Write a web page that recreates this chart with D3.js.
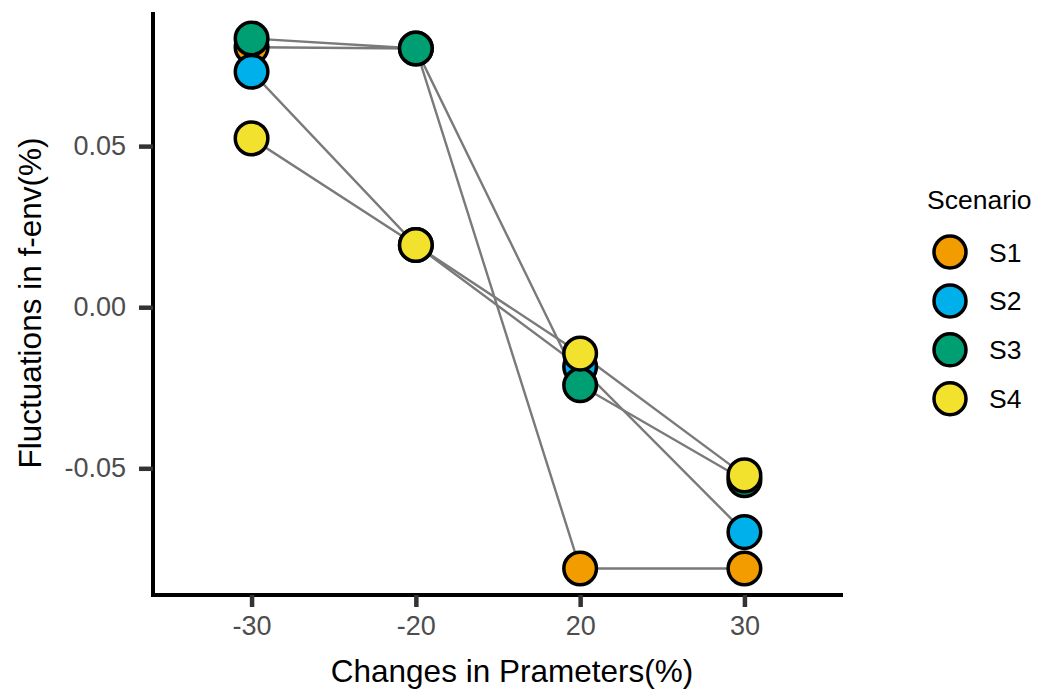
<!DOCTYPE html>
<html>
<head>
<meta charset="utf-8">
<script src="https://d3js.org/d3.v7.min.js"></script>
<style>
  body { margin: 0; background: #fff; }
  text { font-family: "Liberation Sans", Arial, sans-serif; }
</style>
</head>
<body>
<div id="chart"></div>
<script>
// categories on the x axis
var changes = ["-30", "-20", "20", "30"];
var scenarios = ["S1", "S2", "S3", "S4"];
var colors = ["#F39C00", "#00B0EA", "#009E73", "#F2E22E"];

// fluctuation values for each scenario, one per category
var s1 = [0.0807, 0.0803, -0.0811, -0.0811];
var s2 = [0.0731, 0.0193, -0.0185, -0.0698];
var s3 = [0.0834, 0.0803, -0.0242, -0.0537];
var s4 = [0.0524, 0.0193, -0.0144, -0.0522];

var yTicks = [-0.05, 0, 0.05];

var w = 1054, h = 700;
var padL = 153, padR = 843, padT = 12, padB = 595;

var svg = d3.select("#chart").append("svg")
    .attr("width", w)
    .attr("height", h);

var series = [s1, s2, s3, s4].map(function (vals, i) {
    return {
        name: scenarios[i],
        color: colors[i],
        points: vals.map(function (v, j) { return { x: changes[j], y: v }; })
    };
});

var x = d3.scalePoint().domain(changes).range([padL, padR]).padding(0.6);

// ggplot style 5% expansion
var all = d3.merge([s1, s2, s3, s4]);
var ext = d3.extent(all);
var pad = (ext[1] - ext[0]) * 0.05;
var y = d3.scaleLinear().domain([ext[0] - pad, ext[1] + pad]).range([padB, padT]);

// axes
var xAxis = svg.append("g")
    .attr("transform", "translate(0," + padB + ")")
    .call(d3.axisBottom(x).tickSize(12).tickPadding(9));
var yAxis = svg.append("g")
    .attr("transform", "translate(" + padL + ",0)")
    .call(d3.axisLeft(y).tickValues(yTicks).tickSize(14).tickPadding(13)
        .tickFormat(function (d) { return d3.format(".2f")(d).replace("−", "-"); }));

[xAxis, yAxis].forEach(function (a) {
    a.select(".domain").attr("stroke", "#000").attr("stroke-width", 4);
    a.selectAll(".tick line").attr("stroke", "#333").attr("stroke-width", 4.5);
    a.selectAll(".tick text").attr("fill", "#4d4d4d").style("font-size", "27px");
});
// axis lines meet at the corner
xAxis.select(".domain").attr("d", "M" + (padL - 2) + ",0H" + padR);
yAxis.select(".domain").attr("d", "M0," + padT + "V" + (padB + 2));

// axis titles
svg.append("text")
    .attr("x", (padL + padR) / 2 + 14)
    .attr("y", 682)
    .attr("text-anchor", "middle")
    .style("font-size", "31.5px")
    .text("Changes in Prameters(%)");

svg.append("text")
    .attr("transform", "translate(41,303) rotate(-90)")
    .attr("text-anchor", "middle")
    .style("font-size", "31.5px")
    .text("Fluctuations in f-env(%)");

// lines
var line = d3.line()
    .x(function (d) { return x(d.x); })
    .y(function (d) { return y(d.y); });

svg.selectAll(".series-line")
    .data(series)
    .enter()
    .append("path")
    .attr("class", "series-line")
    .attr("d", function (d) { return line(d.points); })
    .attr("fill", "none")
    .attr("stroke", "#7a7a7a")
    .attr("stroke-width", 2.4);

// points
var grp = svg.selectAll(".series-pts")
    .data(series)
    .enter()
    .append("g")
    .attr("class", "series-pts");

grp.selectAll("circle")
    .data(function (d) { return d.points.map(function (p) { return { x: p.x, y: p.y, color: d.color }; }); })
    .enter()
    .append("circle")
    .attr("cx", function (d) { return x(d.x); })
    .attr("cy", function (d) { return y(d.y); })
    .attr("r", 16.3)
    .attr("fill", function (d) { return d.color; })
    .attr("stroke", "#000")
    .attr("stroke-width", 3.5);

// legend
var legend = svg.append("g").attr("transform", "translate(927,0)");
legend.append("text")
    .attr("x", 0)
    .attr("y", 209)
    .style("font-size", "26.5px")
    .text("Scenario");

var item = legend.selectAll(".item")
    .data(series)
    .enter()
    .append("g")
    .attr("class", "item")
    .attr("transform", function (d, i) { return "translate(0," + (252 + i * 48.9) + ")"; });

item.append("circle")
    .attr("cx", 23)
    .attr("cy", 0)
    .attr("r", 16)
    .attr("fill", function (d) { return d.color; })
    .attr("stroke", "#000")
    .attr("stroke-width", 3.5);

item.append("text")
    .attr("x", 62)
    .attr("y", 9.5)
    .style("font-size", "26.5px")
    .text(function (d) { return d.name; });
</script>
</body>
</html>
